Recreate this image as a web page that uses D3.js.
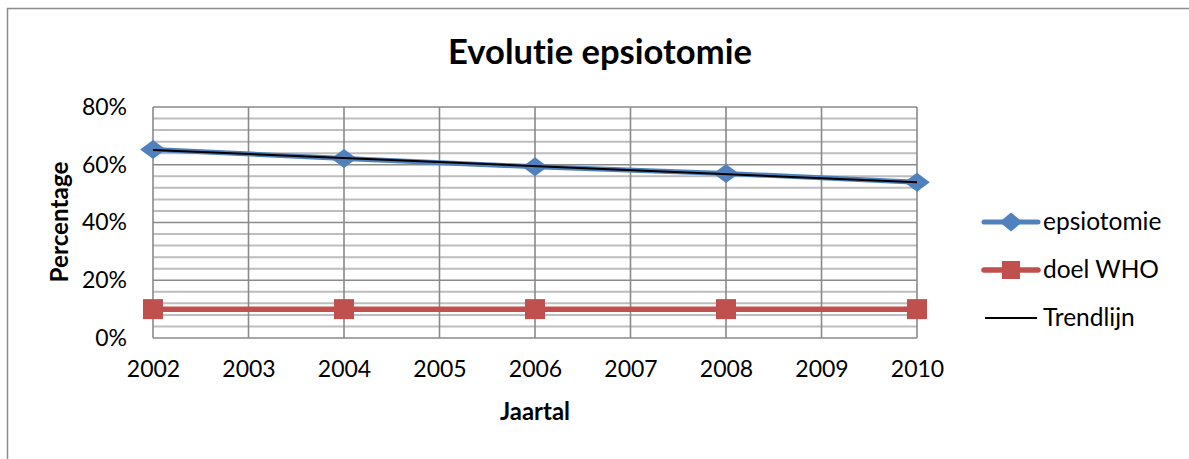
<!DOCTYPE html>
<html>
<head>
<meta charset="utf-8">
<script src="https://cdn.jsdelivr.net/npm/d3@7"></script>
<style>
  html, body { margin: 0; padding: 0; background: #fff; }
  svg { display: block; }
  text { font-family: Lato, "Open Sans", sans-serif; fill: #000; font-variant-ligatures: none; font-feature-settings: "liga" 0; }
</style>
</head>
<body>
<svg id="chart" width="1189" height="459"></svg>
<script>
// Data
const years = [2002, 2004, 2006, 2008, 2010];
const epsiotomie = [0.653, 0.622, 0.593, 0.570, 0.539];
const doelWHO = [0.10, 0.10, 0.10, 0.10, 0.10];
const xTicks = [2002, 2003, 2004, 2005, 2006, 2007, 2008, 2009, 2010];
const yTicks = [0, 0.2, 0.4, 0.6, 0.8];
const yMinorTicks = d3.range(0, 0.8001, 0.04);
const seriesNames = ["epsiotomie", "doel WHO", "Trendlijn"];

const blue = "#4F81BD", red = "#C0504D";

const svg = d3.select("#chart");
const W = 1189, H = 459;
const plot = { left: 153, right: 917, top: 107, bottom: 338 };
const tickSize = 23, legendSize = 24.5;

// scale a text's font size so that it spans the given width
function fitWidth(sel, target) {
  const w = sel.node().getComputedTextLength();
  const fs = parseFloat(sel.style("font-size"));
  sel.style("font-size", (fs * target / w) + "px");
}

// chart frame
svg.append("rect").attr("x", 7.5).attr("y", 8.5).attr("width", W + 10).attr("height", H + 10)
  .attr("fill", "#fff").attr("stroke", "#8c8c8c").attr("stroke-width", 1.5);

const x = d3.scaleLinear().domain([2002, 2010]).range([plot.left, plot.right]);
const y = d3.scaleLinear().domain([0, 0.8]).range([plot.bottom, plot.top]);

// minor horizontal gridlines
svg.append("g").selectAll("line").data(yMinorTicks.filter(v => Math.round(v * 100) % 20 !== 0))
  .join("line")
  .attr("x1", plot.left).attr("x2", plot.right)
  .attr("y1", d => y(d)).attr("y2", d => y(d))
  .attr("stroke", "#bdbdbd").attr("stroke-width", 2);

// major horizontal gridlines
svg.append("g").selectAll("line").data(yTicks)
  .join("line")
  .attr("x1", plot.left).attr("x2", plot.right)
  .attr("y1", d => y(d)).attr("y2", d => y(d))
  .attr("stroke", "#8a8a8a").attr("stroke-width", 1.6);

// vertical gridlines
svg.append("g").selectAll("line").data(xTicks)
  .join("line")
  .attr("x1", d => x(d)).attr("x2", d => x(d))
  .attr("y1", plot.top).attr("y2", plot.bottom)
  .attr("stroke", "#8a8a8a").attr("stroke-width", 1.6);

// axes (labels only, lines drawn by the grid)
const yAxis = svg.append("g").attr("transform", `translate(${plot.left},0)`)
  .call(d3.axisLeft(y).tickValues(yTicks).tickFormat(d3.format(".0%")).tickSize(0).tickPadding(26));
yAxis.select(".domain").remove();
yAxis.selectAll("text").style("font-family", "Lato, 'Open Sans', sans-serif").style("font-size", tickSize + "px").attr("fill", "#000");

const xAxis = svg.append("g").attr("transform", `translate(0,${plot.bottom})`)
  .call(d3.axisBottom(x).tickValues(xTicks).tickFormat(d3.format("d")).tickSize(0).tickPadding(23));
xAxis.select(".domain").remove();
xAxis.selectAll("text").style("font-family", "Lato, 'Open Sans', sans-serif").style("font-size", tickSize + "px").attr("fill", "#000");

// series lines
const line = d3.line().x((d, i) => x(years[i])).y(d => y(d));
svg.append("path").datum(doelWHO).attr("d", line)
  .attr("fill", "none").attr("stroke", red).attr("stroke-width", 5.5);
svg.append("path").datum(epsiotomie).attr("d", line)
  .attr("fill", "none").attr("stroke", blue).attr("stroke-width", 5).attr("stroke-linejoin", "round");

// linear trend (least squares) of epsiotomie
const mx = d3.mean(years), my = d3.mean(epsiotomie);
const slope = d3.sum(years, (v, i) => (v - mx) * (epsiotomie[i] - my)) / d3.sum(years, v => (v - mx) ** 2);
const trend = v => my + slope * (v - mx);
const trendYears = [years[0], years[years.length - 1]];

// markers
const sq = 20;
svg.append("g").selectAll("rect").data(doelWHO).join("rect")
  .attr("x", (d, i) => x(years[i]) - sq / 2).attr("y", d => y(d) - sq / 2)
  .attr("width", sq).attr("height", sq).attr("fill", red);

const diamond = d3.symbol().type(d3.symbolDiamond2).size(230);
svg.append("g").selectAll("path").data(epsiotomie).join("path")
  .attr("d", diamond)
  .attr("transform", (d, i) => `translate(${x(years[i])},${y(d)}) scale(1.35,1)`)
  .attr("fill", blue);

svg.append("line")
  .attr("x1", x(trendYears[0])).attr("y1", y(trend(trendYears[0])))
  .attr("x2", x(trendYears[1])).attr("y2", y(trend(trendYears[1])))
  .attr("stroke", "#000").attr("stroke-width", 2);

// title
const title = svg.append("text").attr("x", 600).attr("y", 64).attr("text-anchor", "middle")
  .style("font-weight", "bold").style("font-size", "32px").text("Evolutie epsiotomie");
fitWidth(title, 304);

// axis titles
const yt = svg.append("text").attr("transform", `translate(68,222) rotate(-90)`).attr("text-anchor", "middle")
  .style("font-weight", "bold").style("font-size", "20px").text("Percentage");
fitWidth(yt, 121);
const xt = svg.append("text").attr("x", (plot.left + plot.right) / 2).attr("y", 420).attr("text-anchor", "middle")
  .style("font-weight", "bold").style("font-size", "20px").text("Jaartal");
fitWidth(xt, 70);

// legend
const legY = [222, 270, 318];
const leg = svg.append("g");
leg.append("line").attr("x1", 984).attr("x2", 1038).attr("y1", legY[0]).attr("y2", legY[0])
  .attr("stroke", blue).attr("stroke-width", 5).attr("stroke-linecap", "round");
leg.append("path").attr("d", diamond).attr("transform", `translate(1011,${legY[0]}) scale(1.2,1)`).attr("fill", blue);
leg.append("line").attr("x1", 984).attr("x2", 1038).attr("y1", legY[1]).attr("y2", legY[1])
  .attr("stroke", red).attr("stroke-width", 5.5).attr("stroke-linecap", "round");
leg.append("rect").attr("x", 1011 - 9).attr("y", legY[1] - 9).attr("width", 18).attr("height", 18).attr("fill", red);
leg.append("line").attr("x1", 985).attr("x2", 1037).attr("y1", legY[2]).attr("y2", legY[2])
  .attr("stroke", "#000").attr("stroke-width", 2);
leg.selectAll("text.lab").data(seriesNames).join("text").attr("class", "lab")
  .attr("x", 1043).attr("y", (d, i) => legY[i] + 8)
  .style("font-size", legendSize + "px").text(d => d);
</script>
</body>
</html>
